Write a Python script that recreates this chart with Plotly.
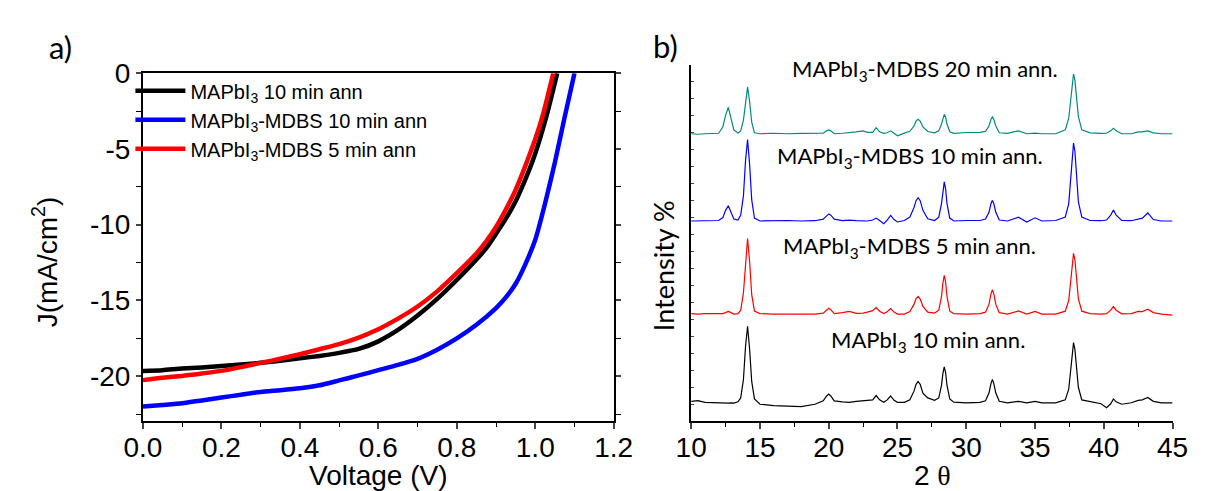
import plotly.graph_objects as go
from plotly.subplots import make_subplots

W, H = 1209, 491

# ---------------- Panel a: J-V curves ----------------
jv_names = ["MAPbI<sub>3</sub> 10 min ann",
            "MAPbI<sub>3</sub>-MDBS 10 min ann",
            "MAPbI<sub>3</sub>-MDBS 5 min ann"]
jv_colors = ["#000000", "#0000ff", "#ff0000"]

v_black = [0, 0.05, 0.1, 0.15, 0.2, 0.25, 0.3, 0.35, 0.4, 0.45, 0.5, 0.55, 0.6, 0.65,
           0.7, 0.75, 0.8, 0.85, 0.875, 0.9, 0.925, 0.95, 0.975, 1.0, 1.03, 1.056]
j_black = [-19.66, -19.6, -19.49, -19.42, -19.33, -19.22, -19.12, -18.98, -18.82, -18.66,
           -18.46, -18.2, -17.7, -16.95, -16.0, -14.9, -13.65, -12.3, -11.55, -10.6,
           -9.6, -8.45, -7.0, -5.3, -2.7, 0.0]

v_blue = [0, 0.05, 0.1, 0.15, 0.2, 0.25, 0.3, 0.35, 0.4, 0.45, 0.5, 0.55, 0.6, 0.65,
          0.7, 0.75, 0.8, 0.85, 0.9, 0.925, 0.95, 0.975, 1.0, 1.025, 1.05, 1.075, 1.1]
j_blue = [-22.0, -21.9, -21.79, -21.6, -21.41, -21.22, -21.04, -20.93, -20.8, -20.6,
          -20.28, -19.95, -19.6, -19.25, -18.85, -18.25, -17.5, -16.6, -15.5, -14.8,
          -13.9, -12.6, -11.0, -8.6, -5.9, -2.9, 0.0]

v_red = [0, 0.05, 0.1, 0.15, 0.2, 0.25, 0.3, 0.35, 0.4, 0.45, 0.5, 0.55, 0.6, 0.65,
         0.7, 0.75, 0.8, 0.85, 0.875, 0.9, 0.925, 0.95, 0.975, 1.0, 1.02, 1.046]
j_red = [-20.26, -20.1, -19.98, -19.82, -19.65, -19.4, -19.12, -18.85, -18.55, -18.22,
         -17.88, -17.45, -16.9, -16.2, -15.4, -14.4, -13.2, -11.9, -11.1, -10.15,
         -9.0, -7.7, -6.1, -4.35, -2.7, 0.0]

jv_v = [v_black, v_blue, v_red]
jv_j = [j_black, j_blue, j_red]

jv_xticks = [0.0, 0.2, 0.4, 0.6, 0.8, 1.0, 1.2]
jv_yticks = [0, -5, -10, -15, -20]

# ---------------- Panel b: XRD patterns ----------------
two_theta = [10.0, 10.5, 11.0, 12.0, 12.3, 12.5, 12.7, 12.9, 13.1, 13.4, 13.6, 13.8, 13.95,
             14.1, 14.25, 14.4, 14.6, 15.0, 16.0, 17.0, 18.0, 19.0, 19.6, 19.85, 20.0,
             20.15, 20.4, 21.0, 21.5, 22.0, 22.5, 22.8, 23.2, 23.45, 23.7, 24.0, 24.25,
             24.5, 24.75, 25.0, 25.5, 25.9, 26.2, 26.35, 26.5, 26.65, 26.85, 27.2, 27.7,
             28.0, 28.2, 28.3, 28.4, 28.5, 28.6, 28.8, 29.1, 30.0, 31.0, 31.4, 31.65,
             31.8, 31.9, 32.0, 32.15, 32.4, 33.0, 33.8, 34.4, 35.0, 35.5, 36.5, 37.2,
             37.45, 37.6, 37.7, 37.8, 37.9, 38.0, 38.15, 38.4, 39.0, 39.8, 40.2, 40.5,
             40.7, 40.9, 41.3, 42.0, 42.5, 42.8, 43.2, 43.6, 44.2, 45.0]

xrd_black = [1.5, 2.2, 0.5, 0, -0.5, -0.5, -0.3, 0, -0.3, 1, 5, 24, 58,
             79, 55, 22, 4, -1.5, -3, -3.5, -4, -1.5, 2, 7, 9,
             7, 2, 1, 0.5, 1.5, 2, 3, 3, 7.5, 3, 0.5, 3,
             7, 2.5, 0.5, 0.5, 3, 12, 19, 22, 19, 10, 5, 2.5,
             5, 18, 30, 37, 31, 18, 4, 0.7, 0, 0.5, 2, 10,
             20, 24, 20, 10, 1.5, 0, 1.5, 0, 1.5, 0, 0, 3,
             14, 35, 53, 62, 55, 38, 16, 3, 1, -1, -5, -1,
             4, 1, -1.5, 0, 2.5, 3, 5.5, 1.5, 0, 0]

xrd_red = [0.5, 0, 0.5, 0.5, 0.5, 1.5, 2.7, 1.5, 0, 0.5, 4, 22, 56,
           78, 54, 20, 3, 0.5, 0, 0, -0.3, 0, 1, 4.5, 6,
           4.5, 0.5, 1.5, 2.7, 0.8, 1, 2, 3.5, 6.7, 3, 0.5, 2.5,
           5.7, 2, 0, 0, 2.5, 10, 16, 18.3, 15.5, 8, 2, 1,
           4, 18, 32, 40, 33, 18, 3, 0.5, 0, 0.5, 2, 10,
           21, 25, 21, 10, 1.5, 0, 3.3, 0, 2.7, 0, 0, 3,
           14, 36, 54, 62.7, 56, 38, 16, 3, 0.5, 0, 0.5, 4,
           7.7, 4, 0.3, 0.5, 2.7, 2.5, 5, 1.5, 0, -1]

xrd_blue = [0, 0, 0.5, 0.5, 3.5, 11, 15.7, 9, 2, 1, 6, 26, 62,
            84, 58, 22, 3, 0, 0.5, 0.5, 0, 0.3, 2, 6, 7.3,
            6, 2, 0.5, 1, 0.3, 0, 0, 1, 3, 0.5, -2.7, 1,
            5.7, 1.5, -1, 0.5, 4, 14, 21, 24, 21, 11, 2.3, 0.5,
            4, 18, 32, 40.3, 33, 18, 3, 0, 0.5, 0.5, 2, 9,
            18, 21.3, 18, 9, 1, 0, 4, -1, 3.3, 0, 0.5, 4,
            18, 46, 69, 80.3, 72, 50, 20, 4, 0.5, 0.3, 1, 6,
            11.3, 6, 0.5, 0.3, 2.3, 3, 8.3, 1.5, 0, 0]

xrd_teal = [0, -0.5, 0, 0.5, 7, 19, 27.3, 17, 4, 0.7, 3, 14, 35,
            48.3, 33, 12, 1, 0, 0.5, 0, 0.3, 0, 0.5, 3, 4,
            3, 0, 0.5, 1, 2, 3, 1.5, 1.5, 6.3, 2, 0.5, 1,
            3, 0.5, -2, 0.7, 2.5, 8, 13, 15, 13, 7, 2.3, 1,
            3, 10, 16, 20, 17, 10, 2, 0.5, 1.3, 1.5, 2.5, 8,
            15, 17.3, 15, 8, 1, 0.5, 3, 0, 0.7, 0, 0, 4,
            16, 38, 54, 61.7, 55, 40, 18, 4, 1, 0.3, 0.5, 3,
            5.7, 3, 0, 0, 2, 2, 3, 1, 0, 0]

xrd_patterns = [xrd_black, xrd_red, xrd_blue, xrd_teal]
xrd_offsets = [19, 110.5, 206.5, 296.5]
xrd_colors = ["#000000", "#ff0000", "#0000ff", "#008b80"]
xrd_labels = ["MAPbI<sub>3</sub> 10 min ann.",
              "MAPbI<sub>3</sub>-MDBS 5 min ann.",
              "MAPbI<sub>3</sub>-MDBS 10 min ann.",
              "MAPbI<sub>3</sub>-MDBS 20 min ann."]
xrd_label_x = [27.2, 25.85, 25.9, 27.0]
xrd_label_y = [83, 180, 273, 362]
xrd_xticks = [10, 15, 20, 25, 30, 35, 40, 45]

# ---------------- Figure ----------------
fig = make_subplots(rows=1, cols=2)

for v, j, name, c in zip(jv_v, jv_j, jv_names, jv_colors):
    fig.add_trace(go.Scatter(x=v, y=j, mode="lines", name=name,
                             line=dict(color=c, width=4.5, shape="spline", smoothing=0.6),
                             showlegend=True), row=1, col=1)

for pat, off, c in zip(xrd_patterns, xrd_offsets, xrd_colors):
    fig.add_trace(go.Scatter(x=two_theta, y=[p + off for p in pat], mode="lines",
                             line=dict(color=c, width=1.2), showlegend=False,
                             hoverinfo="skip"), row=1, col=2)

sans = "Liberation Sans, Arial, sans-serif"
cal = "Lato, Open Sans, sans-serif"

fig.update_xaxes(row=1, col=1, domain=[128 / W, 614 / W], range=[0, 1.2],
                 tickvals=jv_xticks, ticktext=[f"{t:.1f}" for t in jv_xticks],
                 ticks="outside", ticklen=6, tickwidth=1.5, showline=True,
                 linewidth=2, linecolor="black", mirror=True, showgrid=False,
                 zeroline=False, ticklabelstandoff=-6,
                 tickfont=dict(family=sans, size=28, color="black"),
                 minor=dict(dtick=0.1, ticks="outside", ticklen=4, tickwidth=1.2,
                            tickcolor="black"))
fig.update_yaxes(row=1, col=1, domain=[1 - 419 / H, 1 - 60 / H], range=[-22.97, 0],
                 tickvals=jv_yticks, ticktext=[str(t) for t in jv_yticks],
                 ticks="outside", ticklen=5, tickwidth=1.5,
                 showline=True, linewidth=2, linecolor="black", mirror="ticks",
                 showgrid=False, zeroline=False,
                 tickfont=dict(family=sans, size=28, color="black"),
                 minor=dict(dtick=2.5, ticks="outside", ticklen=5, tickwidth=1.2,
                            tickcolor="black"))

fig.update_xaxes(row=1, col=2, domain=[694 / W, 1191 / W], range=[10, 45],
                 tickvals=xrd_xticks, ticks="outside", ticklen=6, tickwidth=1.5,
                 showline=True, linewidth=1.5, linecolor="black", mirror=False,
                 showgrid=False, zeroline=False, ticklabelstandoff=-6,
                 tickfont=dict(family=sans, size=28, color="black"),
                 minor=dict(dtick=2.5, ticks="outside", ticklen=4, tickwidth=1.2,
                            tickcolor="black"))
fig.update_yaxes(row=1, col=2, domain=[1 - 419 / H, 1 - 52 / H], range=[0, 367],
                 tick0=0, dtick=17.5, ticks="inside", ticklen=3, tickwidth=1,
                 showticklabels=False, showline=True, linewidth=1.5, linecolor="black",
                 showgrid=False, zeroline=False)


def pann(text, px, py, font, angle=0):
    return dict(text=text, x=px / W, y=1 - py / H, xref="paper", yref="paper",
                xanchor="center", yanchor="middle", textangle=angle,
                showarrow=False, font=font)


annotations = [
    pann("a)", 43, 33, dict(family=cal, size=31, color="black")),
    pann("b)", 667, 32, dict(family=cal, size=31, color="black")),
    pann("Voltage (V)", 371, 475, dict(family=sans, size=28, color="black")),
    pann("J(mA/cm<sup>2</sup>)", 27, 255, dict(family=sans, size=28, color="black"),
         angle=-90),
    pann("2 <span style='font-family:Liberation Serif'>θ</span>", 943, 475,
         dict(family=sans, size=28, color="black")),
    pann("Intensity %", 665, 259, dict(family=cal, size=27, color="black"), angle=-90),
]
for lab, lx, ly in zip(xrd_labels, xrd_label_x, xrd_label_y):
    annotations.append(dict(text=lab, x=lx, y=ly, xref="x2", yref="y2",
                            xanchor="center", yanchor="middle", showarrow=False,
                            font=dict(family=cal, size=22, color="black")))

fig.update_layout(
    width=W, height=H, margin=dict(l=0, r=0, t=0, b=0),
    paper_bgcolor="white", plot_bgcolor="white",
    annotations=annotations,
    legend=dict(x=115 / W, y=1 - 58 / H, xanchor="left", yanchor="top",
                bgcolor="rgba(0,0,0,0)", tracegroupgap=0,
                font=dict(family=sans, size=20, color="black"),
                itemwidth=50),
)

fig.write_html("out.html", config={"displayModeBar": False},
               post_script="document.body.style.margin='0';"
                           "document.body.style.overflow='hidden';")
